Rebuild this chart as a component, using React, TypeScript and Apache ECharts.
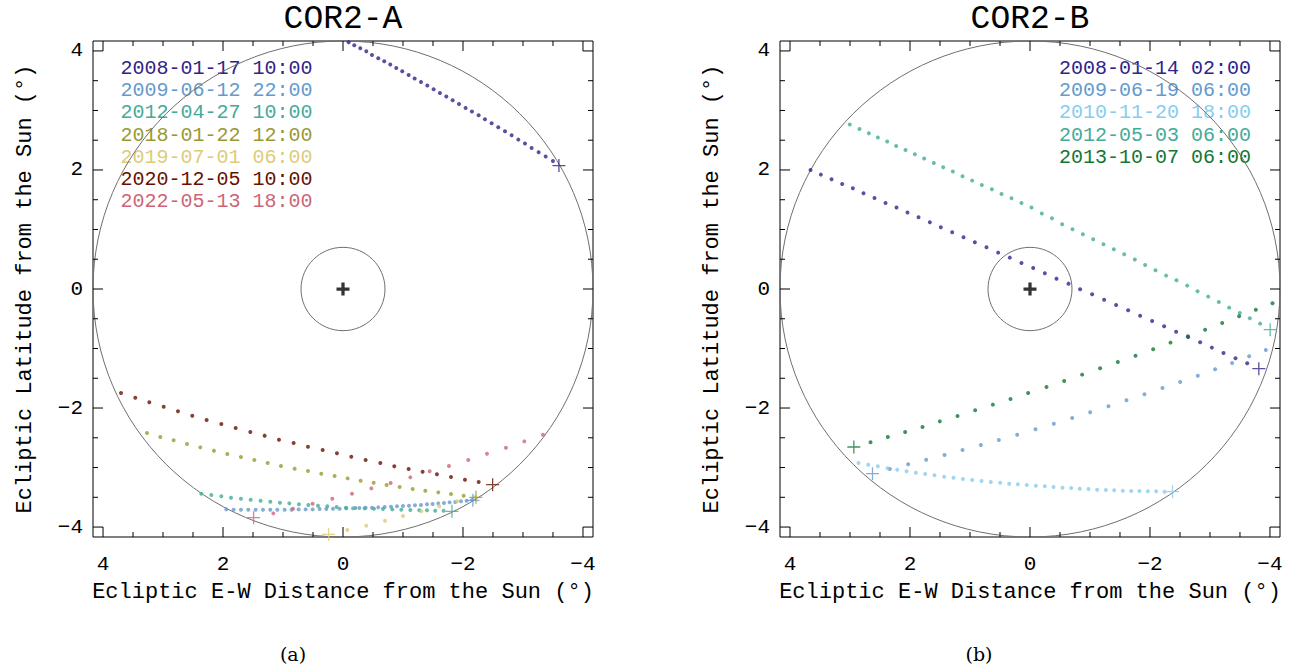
import React, { useEffect, useRef } from 'react';
import * as echarts from 'echarts';

// ---------- geometry (degrees) ----------
const FOV = 4.167; // half range of both axes and outer FOV circle radius
const OCCULTER = 0.7;
const fovCircles = [[0, 0, FOV], [0, 0, OCCULTER]];
const sunCenter = [[0, 0]];
const majorTicks = [-4, -2, 0, 2, 4];
const minorTicks = [-3.5, -3, -2.5, -1.5, -1, -0.5, 0.5, 1, 1.5, 2.5, 3, 3.5];

// ---------- COR2-A ----------
const titleA = 'COR2-A';
const labelsA = ['2008-01-17 10:00', '2009-06-12 22:00', '2012-04-27 10:00', '2018-01-22 12:00', '2019-07-01 06:00', '2020-12-05 10:00', '2022-05-13 18:00'];
const colorsA = ['#332288', '#6699CC', '#44AA99', '#999933', '#DDCC77', '#661100', '#CC6677'];

const a2008 = [[-0.094, 4.146], [-0.188, 4.096], [-0.288, 4.045], [-0.388, 3.995], [-0.483, 3.933], [-0.588, 3.877], [-0.688, 3.827], [-0.788, 3.771], [-0.888, 3.715], [-0.988, 3.659], [-1.094, 3.597], [-1.194, 3.536], [-1.3, 3.479], [-1.405, 3.418], [-1.511, 3.356], [-1.616, 3.295], [-1.722, 3.233], [-1.827, 3.171], [-1.933, 3.11], [-2.044, 3.043], [-2.149, 2.981], [-2.261, 2.919], [-2.366, 2.852], [-2.477, 2.785], [-2.588, 2.718], [-2.7, 2.65], [-2.811, 2.583], [-2.922, 2.51], [-3.033, 2.443], [-3.144, 2.37], [-3.261, 2.297], [-3.378, 2.225], [-3.499, 2.152]];
const a2009 = [[1.945, -3.703], [1.823, -3.708], [1.701, -3.708], [1.578, -3.708], [1.456, -3.708], [1.334, -3.708], [1.212, -3.708], [1.095, -3.708], [0.973, -3.708], [0.856, -3.708], [0.74, -3.703], [0.623, -3.703], [0.506, -3.703], [0.39, -3.697], [0.278, -3.697], [0.167, -3.691], [0.056, -3.691], [-0.055, -3.686], [-0.166, -3.686], [-0.272, -3.68], [-0.377, -3.674], [-0.483, -3.674], [-0.588, -3.669], [-0.694, -3.663], [-0.8, -3.658], [-0.9, -3.652], [-1.0, -3.647], [-1.1, -3.641], [-1.2, -3.635], [-1.3, -3.63], [-1.4, -3.618], [-1.494, -3.613], [-1.588, -3.602], [-1.683, -3.596], [-1.777, -3.585], [-1.872, -3.579], [-1.966, -3.568], [-2.061, -3.557], [-2.15, -3.546]];
const a2012 = [[2.362, -3.439], [2.195, -3.462], [2.028, -3.484], [1.867, -3.506], [1.701, -3.523], [1.539, -3.54], [1.373, -3.557], [1.212, -3.574], [1.051, -3.59], [0.895, -3.602], [0.734, -3.618], [0.578, -3.63], [0.417, -3.641], [0.262, -3.652], [0.106, -3.663], [-0.05, -3.674], [-0.205, -3.68], [-0.361, -3.686], [-0.516, -3.691], [-0.666, -3.697], [-0.822, -3.703], [-0.972, -3.708], [-1.122, -3.714], [-1.272, -3.719], [-1.4, -3.719], [-1.538, -3.725], [-1.677, -3.725]];
const a2018 = [[3.267, -2.42], [3.045, -2.487], [2.823, -2.543], [2.601, -2.605], [2.378, -2.661], [2.151, -2.716], [1.928, -2.773], [1.701, -2.823], [1.478, -2.873], [1.256, -2.924], [1.034, -2.974], [0.806, -3.019], [0.584, -3.058], [0.362, -3.103], [0.14, -3.142], [-0.077, -3.182], [-0.294, -3.221], [-0.511, -3.254], [-0.727, -3.294], [-0.944, -3.327], [-1.161, -3.361], [-1.372, -3.389], [-1.588, -3.417], [-1.8, -3.445], [-2.011, -3.473]];
const a2019 = [[-0.072, -4.05], [-0.388, -3.977], [-0.7, -3.893], [-1.0, -3.815], [-1.305, -3.736], [-1.605, -3.652], [-1.9, -3.568], [-2.205, -3.495]];
const a2020 = [[3.7, -1.747], [3.462, -1.826], [3.228, -1.904], [2.989, -1.977], [2.751, -2.055], [2.512, -2.128], [2.273, -2.201], [2.028, -2.268], [1.789, -2.336], [1.545, -2.403], [1.306, -2.464], [1.067, -2.532], [0.823, -2.588], [0.584, -2.649], [0.339, -2.705], [0.101, -2.761], [-0.138, -2.817], [-0.377, -2.873], [-0.622, -2.924], [-0.855, -2.98], [-1.094, -3.025], [-1.327, -3.069], [-1.566, -3.114], [-1.8, -3.159], [-2.033, -3.204], [-2.261, -3.243]];
const a2022 = [[1.162, -3.77], [0.834, -3.691], [0.506, -3.607], [0.178, -3.523], [-0.15, -3.439], [-0.472, -3.35], [-0.794, -3.26], [-1.122, -3.165], [-1.444, -3.064], [-1.766, -2.974], [-2.088, -2.873], [-2.4, -2.767], [-2.716, -2.666], [-3.022, -2.56], [-3.333, -2.448]];
const tracksA = [a2008, a2009, a2012, a2018, a2019, a2020, a2022];
const endsA = [[-3.599, 2.073], [-2.165, -3.551], [-1.816, -3.736], [-2.216, -3.501], [0.24, -4.123], [-2.494, -3.288], [1.49, -3.843]];

// ---------- COR2-B ----------
const titleB = 'COR2-B';
const labelsB = ['2008-01-14 02:00', '2009-06-19 06:00', '2010-11-20 18:00', '2012-05-03 06:00', '2013-10-07 06:00'];
const colorsB = ['#332288', '#6699CC', '#88CCEE', '#44AA99', '#117733'];

const b2008 = [[3.658, 2.001], [3.486, 1.922], [3.308, 1.844], [3.131, 1.765], [2.953, 1.692], [2.775, 1.608], [2.592, 1.53], [2.408, 1.446], [2.225, 1.368], [2.042, 1.284], [1.858, 1.205], [1.669, 1.121], [1.486, 1.037], [1.297, 0.953], [1.108, 0.869], [0.919, 0.785], [0.725, 0.701], [0.531, 0.611], [0.336, 0.527], [0.142, 0.437], [-0.053, 0.353], [-0.247, 0.264], [-0.442, 0.174], [-0.642, 0.09], [-0.836, -0.005], [-1.036, -0.089], [-1.236, -0.179], [-1.436, -0.268], [-1.636, -0.358], [-1.836, -0.448], [-2.036, -0.537], [-2.236, -0.627], [-2.436, -0.717], [-2.636, -0.806], [-2.836, -0.896], [-3.031, -0.985], [-3.225, -1.075], [-3.425, -1.165], [-3.62, -1.249]];
const b2009 = [[2.336, -3.025], [2.031, -2.946], [1.731, -2.868], [1.425, -2.789], [1.125, -2.705], [0.819, -2.621], [0.519, -2.537], [0.214, -2.448], [-0.092, -2.358], [-0.397, -2.263], [-0.703, -2.168], [-1.003, -2.072], [-1.308, -1.971], [-1.608, -1.871], [-1.908, -1.77], [-2.208, -1.663], [-2.503, -1.563], [-2.797, -1.456], [-3.086, -1.35], [-3.369, -1.243], [-3.653, -1.131], [-3.931, -1.025]];
const b2010 = [[2.858, -2.924], [2.697, -2.952], [2.536, -2.98], [2.375, -3.013], [2.214, -3.036], [2.058, -3.064], [1.903, -3.086], [1.747, -3.109], [1.592, -3.131], [1.431, -3.153], [1.275, -3.17], [1.119, -3.193], [0.964, -3.21], [0.808, -3.226], [0.653, -3.243], [0.497, -3.254], [0.347, -3.271], [0.203, -3.282], [0.053, -3.294], [-0.097, -3.305], [-0.247, -3.316], [-0.392, -3.327], [-0.542, -3.338], [-0.686, -3.344], [-0.831, -3.355], [-0.975, -3.361], [-1.119, -3.372], [-1.264, -3.378], [-1.403, -3.383], [-1.547, -3.389], [-1.686, -3.394], [-1.825, -3.394], [-1.964, -3.4], [-2.103, -3.4], [-2.242, -3.406]];
const b2012 = [[3.003, 2.763], [2.842, 2.69], [2.686, 2.617], [2.536, 2.544], [2.381, 2.477], [2.231, 2.404], [2.075, 2.337], [1.919, 2.264], [1.764, 2.191], [1.603, 2.118], [1.447, 2.045], [1.286, 1.973], [1.125, 1.894], [0.964, 1.821], [0.803, 1.748], [0.636, 1.676], [0.475, 1.597], [0.308, 1.524], [0.142, 1.446], [-0.025, 1.368], [-0.197, 1.27], [-0.366, 1.19], [-0.536, 1.087], [-0.708, 1.003], [-0.881, 0.919], [-1.053, 0.835], [-1.225, 0.751], [-1.397, 0.667], [-1.57, 0.583], [-1.747, 0.494], [-1.919, 0.404], [-2.092, 0.314], [-2.269, 0.225], [-2.442, 0.146], [-2.62, 0.057], [-2.792, -0.039], [-2.97, -0.128], [-3.147, -0.218], [-3.32, -0.313], [-3.497, -0.403], [-3.664, -0.492], [-3.836, -0.582]];
const b2013 = [[2.658, -2.576], [2.369, -2.487], [2.081, -2.403], [1.792, -2.319], [1.503, -2.224], [1.208, -2.134], [0.914, -2.039], [0.619, -1.943], [0.325, -1.848], [0.031, -1.747], [-0.275, -1.647], [-0.569, -1.546], [-0.869, -1.439], [-1.169, -1.333], [-1.464, -1.226], [-1.758, -1.12], [-2.053, -1.013], [-2.342, -0.901], [-2.631, -0.795], [-2.919, -0.683], [-3.203, -0.571], [-3.486, -0.459], [-3.764, -0.347], [-4.042, -0.24]];
const tracksB = [b2008, b2009, b2010, b2012, b2013];
const endsB = [[-3.814, -1.338], [2.625, -3.103], [-2.375, -3.406], [-4.003, -0.683], [2.936, -2.655]];

// ---------- styling ----------
const MONO = '"Liberation Mono", "DejaVu Sans Mono", monospace';
const SERIF = '"DejaVu Serif", "Liberation Serif", serif';
const PLUS = 'path://M9,0H11V9H20V11H11V20H9V11H0V9H9Z';
const PLUS_BOLD = 'path://M7.5,0H12.5V7.5H20V12.5H12.5V20H7.5V12.5H0V7.5H7.5Z';
const grids = [
  { left: 93, top: 41, width: 500, height: 496, show: true, borderColor: '#000', borderWidth: 1, backgroundColor: 'transparent' },
  { left: 780, top: 41, width: 500, height: 496, show: true, borderColor: '#000', borderWidth: 1, backgroundColor: 'transparent' },
];
const centersX = [343, 1030];
const yTitleX = [25, 712];

const fmt = (v: number) => (v < 0 ? '\u2212' + Math.abs(v) : String(v));

function axisFor(dim: 'x' | 'y', gridIndex: number) {
  return {
    type: 'value',
    gridIndex,
    min: -FOV,
    max: FOV,
    inverse: dim === 'x',
    position: dim === 'x' ? 'bottom' : 'left',
    splitLine: { show: false },
    axisLine: { show: false, onZero: false },
    axisTick: { show: false },
    axisLabel: {
      show: true, customValues: majorTicks, formatter: fmt,
      margin: dim === 'x' ? 17 : 10, fontFamily: MONO, fontSize: 21, color: '#000',
    },
  };
}

const tickData = [...majorTicks.map((v) => [v, 1]), ...minorTicks.map((v) => [v, 0])];

function panelSeries(gi: number, tracks: number[][][], ends: number[][], colors: string[], labels: string[]) {
  const ax = { xAxisIndex: gi, yAxisIndex: gi };
  const s: any[] = [
    {
      type: 'custom',
      ...ax,
      silent: true,
      clip: false,
      data: fovCircles,
      renderItem: (_p: any, api: any) => {
        const c = api.coord([api.value(0), api.value(1)]);
        const sz = api.size([api.value(2), api.value(2)]);
        return {
          type: 'ellipse',
          shape: { cx: c[0], cy: c[1], rx: Math.abs(sz[0]), ry: Math.abs(sz[1]) },
          style: { fill: 'none', stroke: '#6f6f6f', lineWidth: 1 },
        };
      },
    },
    {
      type: 'custom',
      ...ax,
      silent: true,
      clip: false,
      data: tickData,
      renderItem: (_p: any, api: any) => {
        const v = api.value(0);
        const len = api.value(1) === 1 ? 10 : 5;
        const b = api.coord([v, -FOV]);
        const t = api.coord([v, FOV]);
        const l = api.coord([FOV, v]);
        const r = api.coord([-FOV, v]);
        const st = { stroke: '#000', lineWidth: 1 };
        return {
          type: 'group',
          children: [
            { type: 'line', shape: { x1: b[0], y1: b[1], x2: b[0], y2: b[1] - len }, style: st },
            { type: 'line', shape: { x1: t[0], y1: t[1], x2: t[0], y2: t[1] + len }, style: st },
            { type: 'line', shape: { x1: l[0], y1: l[1], x2: l[0] + len, y2: l[1] }, style: st },
            { type: 'line', shape: { x1: r[0], y1: r[1], x2: r[0] - len, y2: r[1] }, style: st },
          ],
        };
      },
    },
  ];
  tracks.forEach((t, i) => {
    s.push({
      type: 'scatter', name: labels[i], ...ax, data: t, symbol: 'circle', symbolSize: 4,
      itemStyle: { color: colors[i] }, silent: true,
    });
  });
  tracks.forEach((_t, i) => {
    s.push({
      type: 'scatter', name: labels[i] + ' end', ...ax, data: [ends[i]], symbol: PLUS, symbolSize: 13,
      itemStyle: { color: colors[i] }, silent: true,
    });
  });
  s.push({
    type: 'scatter', name: 'Sun', ...ax, data: sunCenter, symbol: PLUS_BOLD, symbolSize: 13,
    itemStyle: { color: '#000' }, silent: true, z: 5,
  });
  return s;
}

function textEl(text: string, x: number, y: number, size: number, color: string, align: string, family = MONO, rotation = 0) {
  return {
    type: 'text', x, y, rotation, silent: true,
    style: {
      text, fill: color, fontSize: size, fontFamily: family,
      align, textAlign: align, verticalAlign: 'middle', textVerticalAlign: 'middle',
    },
  };
}

export default function App() {
  const ref = useRef<HTMLDivElement>(null);
  useEffect(() => {
    if (!ref.current) return;
    const chart = echarts.init(ref.current, undefined, { renderer: 'svg' });
    const graphics: any[] = [
      textEl(titleA, centersX[0], 19.5, 33, '#000', 'center'),
      textEl(titleB, centersX[1], 19.5, 33, '#000', 'center'),
    ];
    [0, 1].forEach((g) => {
      graphics.push(textEl('Ecliptic E-W Distance from the Sun (\u00b0)', centersX[g], 592, 22, '#000', 'center'));
      graphics.push(textEl('Ecliptic Latitude from the Sun (\u00b0)', yTitleX[g], 289, 22, '#000', 'center', MONO, Math.PI / 2));
    });
    labelsA.forEach((l, i) => graphics.push(textEl(l, 120.5, 68.5 + i * 22.2, 20, colorsA[i], 'left')));
    labelsB.forEach((l, i) => graphics.push(textEl(l, 1251, 68.5 + i * 22.2, 20, colorsB[i], 'right')));
    graphics.push(textEl('(a)', 293, 654, 19, '#000', 'center', SERIF));
    graphics.push(textEl('(b)', 979, 654, 19, '#000', 'center', SERIF));

    chart.setOption({
      animation: false,
      backgroundColor: '#fff',
      grid: grids,
      xAxis: [axisFor('x', 0), axisFor('x', 1)],
      yAxis: [axisFor('y', 0), axisFor('y', 1)],
      series: [
        ...panelSeries(0, tracksA, endsA, colorsA, labelsA),
        ...panelSeries(1, tracksB, endsB, colorsB, labelsB),
      ],
      graphic: graphics,
    });
    return () => chart.dispose();
  }, []);
  return <div ref={ref} style={{ position: 'fixed', left: 0, top: 0, width: 1296, height: 666 }} />;
}
